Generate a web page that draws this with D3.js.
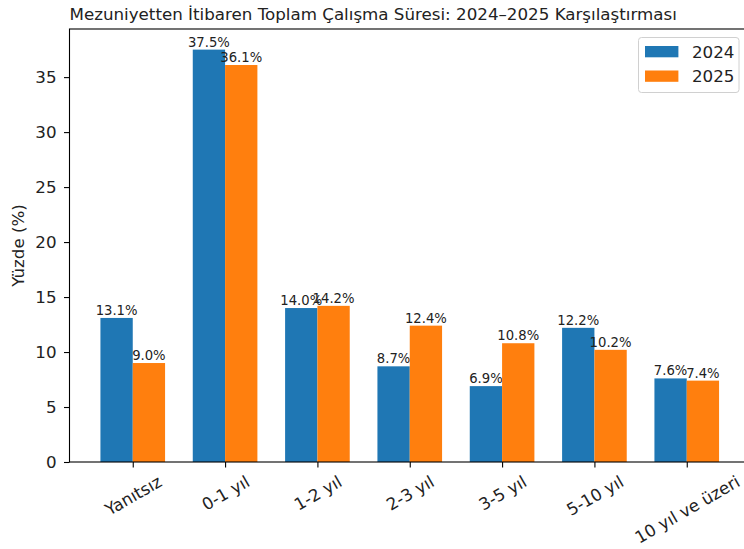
<!DOCTYPE html>
<html lang="tr">
<head>
<meta charset="UTF-8">
<title>Mezuniyetten İtibaren Toplam Çalışma Süresi</title>
<script src="https://cdn.jsdelivr.net/npm/d3@7/dist/d3.min.js"></script>
<style>
  body { margin: 0; background: #fff; }
  svg { display: block; font-family: "DejaVu Sans", sans-serif; }
</style>
</head>
<body>
<svg width="744" height="549"></svg>
<script>
// veriler
var categories = ["Yanıtsız", "0-1 yıl", "1-2 yıl", "2-3 yıl", "3-5 yıl", "5-10 yıl", "10 yıl ve üzeri"];
var values2024 = [13.1, 37.5, 14.0, 8.7, 6.9, 12.2, 7.6];
var values2025 = [9.0, 36.1, 14.2, 12.4, 10.8, 10.2, 7.4];
var years = ["2024", "2025"];
var yTicks = [0, 5, 10, 15, 20, 25, 30, 35];
var colors = ["#1f77b4", "#ff7f0e"];

var svg = d3.select("svg");
var m = {left: 69.5, right: 750, top: 29, bottom: 462};
var barW = 0.35;

var x = d3.scaleLinear().domain([-0.685, 6.685]).range([m.left, m.right]);
var y = d3.scaleLinear().domain([0, 39.375]).range([m.bottom, m.top]);

var series = [values2024, values2025];

// çubuklar
series.forEach(function(vals, s) {
  var off = s === 0 ? -barW : 0;
  var g = svg.append("g");
  g.selectAll("rect").data(vals).enter().append("rect")
    .attr("x", function(d, i) { return x(i + off); })
    .attr("y", function(d) { return y(d); })
    .attr("width", x(barW) - x(0))
    .attr("height", function(d) { return y(0) - y(d); })
    .attr("fill", colors[s]);
  g.selectAll("text").data(vals).enter().append("text")
    .attr("x", function(d, i) { return x(i + off + barW / 2); })
    .attr("y", function(d) { return y(d) - 3; })
    .attr("text-anchor", "middle")
    .attr("font-size", "13.2px")
    .attr("fill", "#222")
    .text(function(d) { return d.toFixed(1) + "%"; });
});

// eksenler
var yAxis = d3.axisLeft(y).tickValues(yTicks).tickSize(5.5).tickPadding(7.5);
var gy = svg.append("g").attr("transform", "translate(" + m.left + ",0)").call(yAxis);
var xAxis = d3.axisBottom(x).tickValues(d3.range(categories.length))
  .tickFormat(function(i) { return categories[i]; }).tickSize(5.5).tickPadding(6);
var gx = svg.append("g").attr("transform", "translate(0," + m.bottom + ")").call(xAxis);

[gx, gy].forEach(function(g) {
  g.select(".domain").remove();
  g.selectAll(".tick line").attr("stroke", "#000").attr("stroke-width", 1.1);
  g.selectAll(".tick text").attr("font-size", "16.7px").attr("fill", "#222")
    .attr("font-family", "DejaVu Sans, sans-serif");
});

// döndürülmüş x etiketleri
var fs = 16.7, h = fs * 1.164, a = 30 * Math.PI / 180;
gx.selectAll(".tick text").each(function() {
  var t = d3.select(this);
  var w = this.getComputedTextLength();
  var bh = w * Math.sin(a) + h * Math.cos(a);
  t.attr("y", null).attr("dy", null)
    .attr("text-anchor", "middle")
    .attr("dominant-baseline", "central")
    .attr("transform", "translate(0," + (9.5 + bh / 2) + ") rotate(-30)");
});

// çerçeve
svg.append("rect").attr("x", m.left).attr("y", m.top)
  .attr("width", m.right - m.left).attr("height", m.bottom - m.top)
  .attr("fill", "none").attr("stroke", "#000").attr("stroke-width", 1.1);

// başlıklar
svg.append("text").attr("x", m.left).attr("y", 20)
  .attr("font-size", "16.7px").attr("fill", "#222")
  .text("Mezuniyetten İtibaren Toplam Çalışma Süresi: 2024–2025 Karşılaştırması");

svg.append("text").attr("transform", "translate(24," + ((m.top + m.bottom) / 2) + ") rotate(-90)")
  .attr("text-anchor", "middle").attr("font-size", "16.7px").attr("fill", "#222")
  .text("Yüzde (%)");

// lejant
var lg = svg.append("g").attr("transform", "translate(638.5,37.5)");
lg.append("rect").attr("width", 100.5).attr("height", 55).attr("rx", 3)
  .attr("fill", "#fff").attr("fill-opacity", 0.8).attr("stroke", "#d0d0d0");
years.forEach(function(yr, i) {
  lg.append("rect").attr("x", 6.5).attr("y", 8.5 + i * 24.5).attr("width", 33.4).attr("height", 11.3)
    .attr("fill", colors[i]);
  lg.append("text").attr("x", 53.5).attr("y", 20 + i * 24.5)
    .attr("font-size", "16.7px").attr("fill", "#222").text(yr);
});
</script>
</body>
</html>
